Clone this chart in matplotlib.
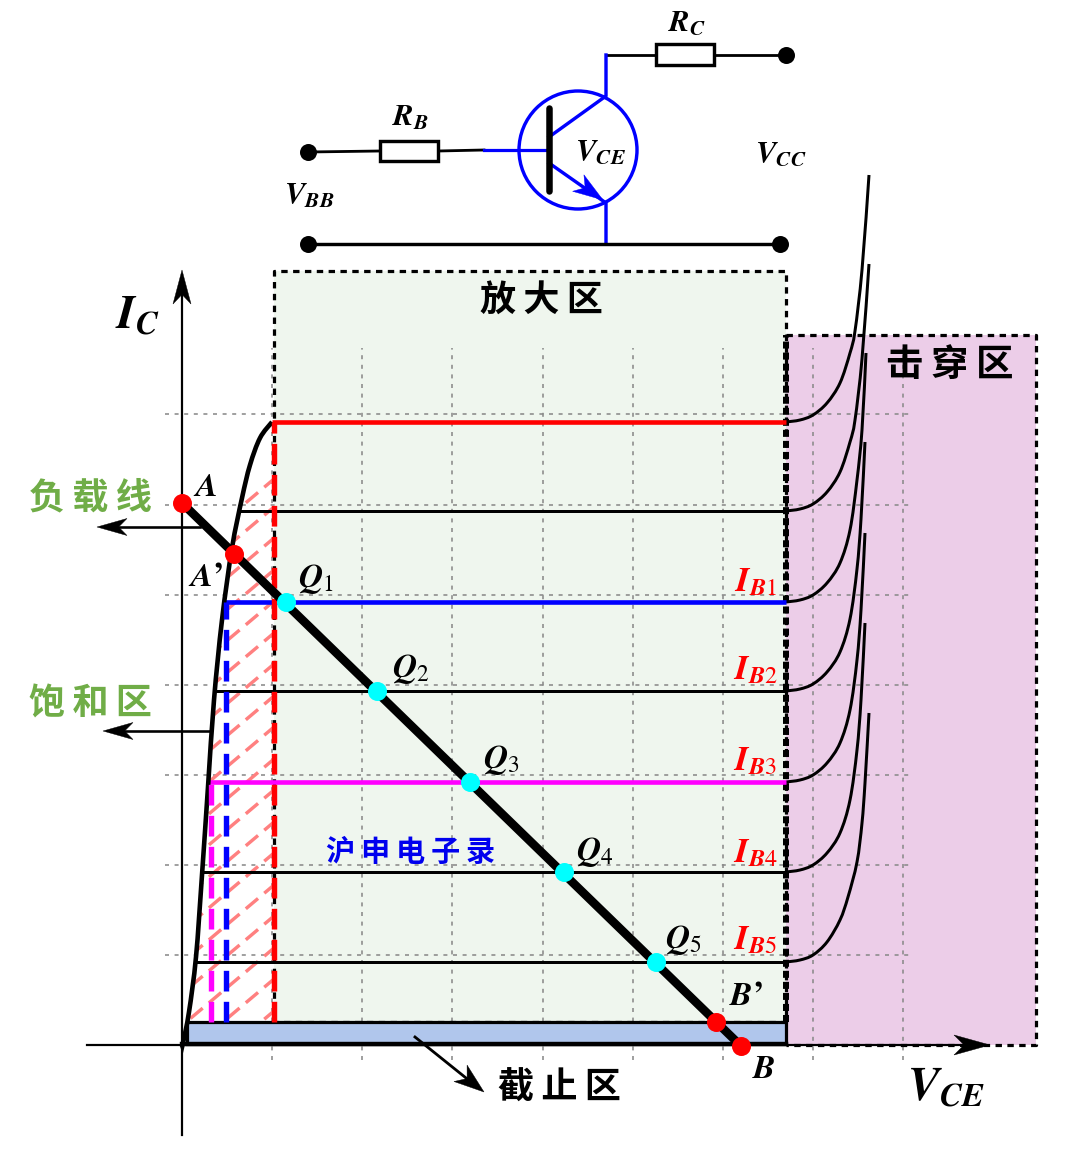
#!/usr/bin/env python3
"""BJT output characteristics with load line and the common-emitter circuit."""

import matplotlib
matplotlib.use("Agg")
import matplotlib.pyplot as plt
import numpy as np
from matplotlib.patches import Circle, PathPatch, Polygon, Rectangle
from matplotlib.path import Path

# chart values: V_CE to the right of the origin, I_C above it (no scale printed)
SAT_X = [0, 1, 7, 14, 20, 26, 32, 40, 50, 60, 68, 78, 90]
SAT_Y = [0, 2, 33, 88, 170, 258, 345, 425, 497, 547, 580, 607, 623]

IB_LEVELS = [623, 534, 443, 354, 263, 173, 83]
IB_STARTS = [90, 56, 43, 32, 27, 20, 13]
IB_COLORS = ["#ff0000", "black", "#0000ff", "black", "#ff00ff", "black", "black"]

BREAK_X = [
    [604, 618, 631, 645, 658, 668, 673, 680, 687],
    [604, 618, 631, 645, 658, 668, 673, 680, 687],
    [604, 618, 631, 645, 658, 668, 675, 680, 684],
    [604, 618, 631, 645, 658, 668, 675, 679, 683],
    [604, 618, 631, 645, 658, 668, 675, 679, 683],
    [604, 618, 631, 645, 658, 668, 675, 679, 683],
    [604, 618, 631, 645, 658, 666, 675, 680, 683, 687],
]
BREAK_Y = [
    [623, 625, 630, 642, 662, 692, 714, 775, 870],
    [534, 536, 541, 553, 573, 603, 625, 686, 781],
    [443, 445, 450, 462, 482, 515, 565, 615, 692],
    [354, 356, 361, 373, 393, 426, 476, 526, 603],
    [263, 265, 270, 282, 302, 335, 385, 435, 512],
    [173, 175, 180, 192, 212, 245, 295, 345, 422],
    [83, 85, 90, 103, 125, 148, 183, 222, 262, 332],
]

LOAD_X = [0, 559]
LOAD_Y = [542, -1]
RED_X = [0, 52, 534, 559]
RED_Y = [542, 491, 23, -1]
Q_X = [104, 195, 288, 382, 474]
Q_Y = [443, 354, 263, 173, 83]

GRID_X = [90, 180, 270, 361, 451, 541, 631, 721]
GRID_Y = [90, 180, 270, 360, 450, 540, 631]
HATCH_ENDS = [3, 34, 66, 97, 129, 160, 192, 223, 255, 286, 318, 349, 381, 412, 444, 475, 507, 538, 566]

Q_LABELS = ["1", "2", "3", "4", "5"]
IB_LABELS = ["1", "2", "3", "4", "5"]

PX = 0.72  # points per pixel at dpi 100
CJK = ["Noto Sans CJK SC", "DejaVu Sans"]
THIN = "\u2009"

plt.rcParams["mathtext.fontset"] = "stix"


def smooth_path(xs, ys):
    pts = np.column_stack([xs, ys]).astype(float)
    verts = [pts[0]]
    codes = [Path.MOVETO]
    for i in range(len(pts) - 1):
        p0 = pts[max(i - 1, 0)]
        p1, p2 = pts[i], pts[i + 1]
        p3 = pts[min(i + 2, len(pts) - 1)]
        verts += [p1 + (p2 - p0) / 6, p2 - (p3 - p1) / 6, p2]
        codes += [Path.CURVE4] * 3
    return Path(verts, codes)


def stealth(axis, tip, start, length, width, color="black", zorder=8):
    tip = np.array(tip, float)
    d = tip - np.array(start, float)
    d /= np.hypot(*d)
    n = np.array([-d[1], d[0]])
    pts = [tip, tip - d * length + n * width / 2, tip - d * length * 0.72,
           tip - d * length - n * width / 2]
    axis.add_patch(Polygon(pts, closed=True, fc=color, ec=color, lw=0.3, zorder=zorder))


def resistor(axis, x0, x1, y0, y1):
    axis.add_patch(Rectangle((x0, y0), x1 - x0, y1 - y0, fc="white", ec="black",
                             lw=3.4 * PX, zorder=5))


def bold(sym, sub=None):
    if sub is None:
        return rf"$\boldsymbol{{{sym}}}$"
    return rf"$\boldsymbol{{{sym}}}_{{{sub}}}$"


def main():
    fig = plt.figure(figsize=(10.8, 11.58), dpi=100)
    ax = fig.add_axes([0, 0, 1, 1])
    ax.set_xlim(-182, 898)
    ax.set_ylim(-113, 1045)
    ax.axis("off")

    # regions
    dash_border = (0, (2.0, 1.7))
    ax.add_patch(Rectangle((92, 23), 512, 751, fc="#eff6ee", ec="none", zorder=1))
    ax.add_patch(Rectangle((604, 0), 250, 710, fc="#eccde8", ec="none", zorder=1))
    ax.plot([92, 92, 604, 604, 92], [23, 774, 774, 23, 23], color="black",
            lw=3.2 * PX, ls=dash_border, zorder=3)
    ax.plot([604, 854, 854, 604], [710, 710, 0, 0], color="black",
            lw=3.2 * PX, ls=dash_border, zorder=3)
    # the two region borders overlap on this edge, so it reads heavier
    ax.plot([604, 604], [23, 710], color="black", lw=6 * PX, ls=(0, (1.17, 0.67)), zorder=3)
    ax.add_patch(Rectangle((5, 1), 599, 22, fc="#b0c6ec", ec="black", lw=3.2 * PX, zorder=3))
    ax.plot([0, 604], [1, 1], color="black", lw=4.4 * PX, zorder=6)

    # dotted grid
    for gx in GRID_X:
        ax.plot([gx, gx], [-15, 697], color="#8a8a8a", lw=1.6 * PX,
                ls=(0, (2.5, 3.5)), zorder=2)
    for gy in GRID_Y:
        ax.plot([-17, 730], [gy, gy], color="#8a8a8a", lw=1.6 * PX,
                ls=(0, (2.5, 3.5)), zorder=2)

    # axes
    ax.plot([-95, 800], [0, 0], color="black", lw=2.2 * PX, zorder=6)
    ax.plot([0, 0], [-90, 760], color="black", lw=2.2 * PX, zorder=6)
    stealth(ax, (808, 0), (700, 0), 36, 20)
    stealth(ax, (0, 775), (0, 600), 34, 18)

    # saturation hatching, clipped to the area under the saturation curve
    clip = Polygon(list(zip(SAT_X, SAT_Y)) + [(92, 623), (92, 23), (5, 23)],
                   closed=True, transform=ax.transData)
    for end in HATCH_ENDS:
        line, = ax.plot([-10, 92], [end - 86, end], color="#ff8080", lw=3.4 * PX,
                        ls=(0, (4.7, 2.4)), zorder=4)
        line.set_clip_path(clip)

    # collector current curves
    for level, start, color, bx, by in zip(IB_LEVELS, IB_STARTS, IB_COLORS, BREAK_X, BREAK_Y):
        lw = 4.6 if color != "black" else 3.0
        ax.add_patch(PathPatch(smooth_path(bx, by), fc="none", ec="black", lw=3.0 * PX, zorder=5))
        ax.plot([start, 604], [level, level], color=color, lw=lw * PX,
                solid_capstyle="butt", zorder=5)

    ax.add_patch(PathPatch(smooth_path(SAT_X, SAT_Y), fc="none", ec="black", lw=4.6 * PX, zorder=6))

    # saturation boundaries
    dashes = (0, (3.83, 1.91))
    ax.plot([92, 92], [23, 623], color="#ff0000", lw=5.4 * PX, ls=dashes, zorder=6)
    ax.plot([44, 44], [23, 443], color="#0000ff", lw=5.4 * PX, ls=dashes, zorder=6)
    ax.plot([29, 29], [23, 263], color="#ff00ff", lw=5.4 * PX, ls=dashes, zorder=6)

    # load line and operating points
    ax.plot(LOAD_X, LOAD_Y, color="black", lw=8.6 * PX, solid_capstyle="butt", zorder=7)
    ax.plot(RED_X, RED_Y, "o", color="#ff0000", ms=19 * PX, mew=0, zorder=8)
    ax.plot(Q_X, Q_Y, "o", color="#00ffff", ms=19 * PX, mew=0, zorder=8)

    # overlay in picture coordinates for the circuit and the labels
    sk = fig.add_axes([0, 0, 1, 1])
    sk.set_xlim(0, 1080)
    sk.set_ylim(1158, 0)
    sk.axis("off")

    blue = "#0000ff"
    sk.plot([308, 380], [152, 151], color="black", lw=2.8 * PX)
    sk.plot([438, 484], [151, 150], color="black", lw=2.8 * PX)
    sk.plot([484, 549], [150, 150], color=blue, lw=3.2 * PX)
    resistor(sk, 380, 438, 141, 161)
    sk.plot([606, 785], [55, 55], color="black", lw=2.8 * PX)
    resistor(sk, 656, 714, 44, 65)
    sk.plot([606, 606, 549], [55, 96, 137], color=blue, lw=3.4 * PX)
    sk.plot([549, 606, 606], [163, 203, 244], color=blue, lw=3.4 * PX)
    sk.plot([308, 780], [244, 244], color="black", lw=3.4 * PX, zorder=3)
    sk.add_patch(Circle((578, 150), 59, fc="none", ec=blue, lw=3.4 * PX))
    sk.plot([549, 549], [108, 191], color="black", lw=6.5 * PX, solid_capstyle="round")
    stealth(sk, (603, 200), (549, 163), 30, 20, color=blue)
    sk.plot([308, 308, 786, 780], [152, 244, 55, 244], "o", color="black", ms=17 * PX, mew=0)

    # arrows to the regions
    sk.plot([200, 105], [527, 527], color="black", lw=2.6 * PX)
    stealth(sk, (97, 527), (200, 527), 30, 17)
    sk.plot([210, 110], [731, 731], color="black", lw=2.6 * PX)
    stealth(sk, (103, 731), (210, 731), 30, 17)
    sk.plot([415, 476], [1037, 1086], color="black", lw=2.8 * PX)
    stealth(sk, (484, 1092), (415, 1037), 30, 21)

    # labels
    def label(x, y, s, size, color="black", **kw):
        sk.text(x, y, s, fontsize=size, color=color, ha="center", va="center", zorder=10, **kw)

    label(137, 316, bold("I", r"\boldsymbol{C}"), 34)
    label(946, 1088, bold("V", r"\boldsymbol{CE}"), 34)
    label(411, 118, bold("R", r"\boldsymbol{B}"), 22)
    label(687, 23, bold("R", r"\boldsymbol{C}"), 22)
    label(309, 196, bold("V", r"\boldsymbol{BB}"), 22)
    label(601, 152, bold("V", r"\boldsymbol{CE}"), 22)
    label(781, 154, bold("V", r"\boldsymbol{CC}"), 22)
    label(205, 486, bold("A"), 24)
    label(206, 578, bold("A") + "\u2019", 24, fontweight="bold", family="STIXGeneral")
    label(746, 997, bold("B") + "\u2019", 24, fontweight="bold", family="STIXGeneral")
    label(764, 1068, bold("B"), 24)

    for x, y, sub in zip([316, 411, 501, 595, 683], [579, 669, 760, 852, 940], Q_LABELS):
        label(x, y, bold("Q", sub), 24)
    for y, sub in zip([581, 669, 760, 852, 939], IB_LABELS):
        label(755, y, bold("I", r"\boldsymbol{B}" + sub), 25, color="#ff0000")

    label(541, 300, THIN.join("放大区"), 26, family=CJK, fontweight="bold")
    label(950, 364, THIN.join("击穿区"), 27, family=CJK, fontweight="bold")
    label(559, 1088, THIN.join("截止区"), 26, family=CJK, fontweight="bold")
    label(90, 498, THIN.join("负载线"), 26, color="#70ad47", family=CJK, fontweight="bold")
    label(90, 704, THIN.join("饱和区"), 26, color="#70ad47", family=CJK, fontweight="bold")
    label(411, 852, THIN.join("沪申电子录"), 21, color="#0000ee", family=CJK, fontweight="bold")

    fig.savefig("out.png", dpi=100)
    plt.close(fig)


if __name__ == "__main__":
    main()
